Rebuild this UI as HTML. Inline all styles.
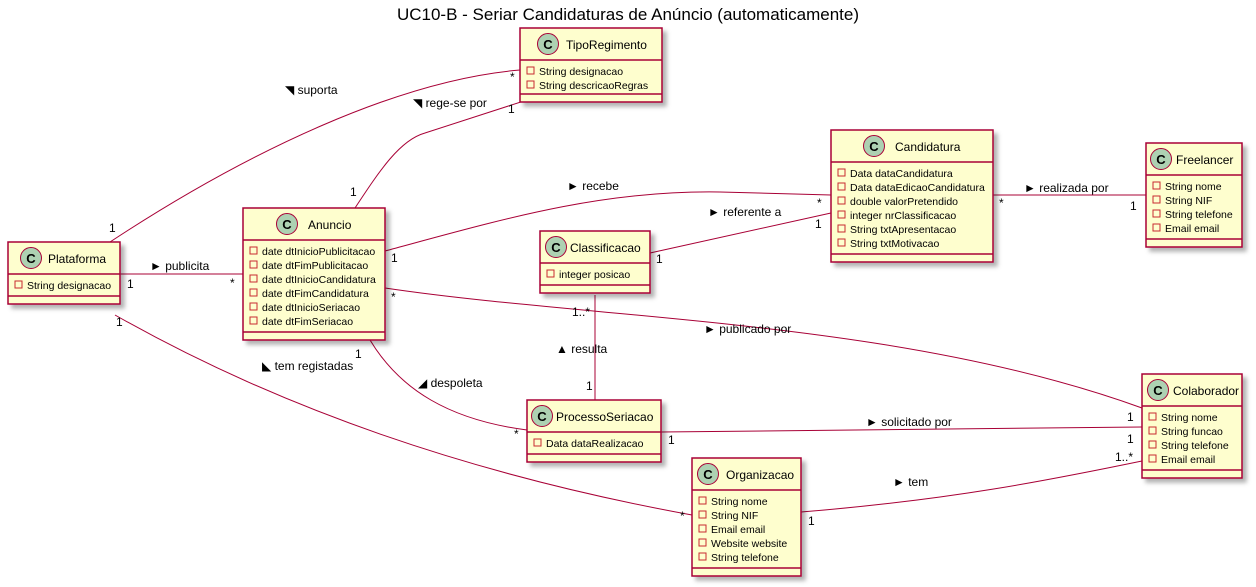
<!DOCTYPE html>
<html><head><meta charset="utf-8"><style>
html,body{margin:0;padding:0;background:#fff;}
svg{display:block;font-family:"Liberation Sans",sans-serif;}
.at{font-size:10.5px;fill:#000}
.cn{font-size:12px;fill:#000}
.lb{font-size:12px;fill:#000}
.e{fill:none;stroke:#A80036;stroke-width:1}
</style></head><body>
<svg width="1256" height="587" viewBox="0 0 1256 587" xmlns="http://www.w3.org/2000/svg">
<defs><filter id="sh" x="-10%" y="-10%" width="130%" height="130%"><feDropShadow dx="4" dy="4" stdDeviation="2" flood-color="#000" flood-opacity="0.3"/></filter></defs>
<text x="628" y="20" text-anchor="middle" font-size="17">UC10-B - Seriar Candidaturas de Anúncio (automaticamente)</text>

<path class="e" d="M110,242 C250,150 400,80 520,70"/>
<path class="e" d="M355,208 C380,170 400,140 425,133 L527,100"/>
<path class="e" d="M120,274 L243,274"/>
<path class="e" d="M385,251 C500,220 600,190 720,192 L831,195"/>
<path class="e" d="M650,253 L831,213"/>
<path class="e" d="M993,195 L1146,195"/>
<path class="e" d="M385,288 C600,320 900,320 1142,408"/>
<path class="e" d="M595,295 L595,400"/>
<path class="e" d="M370,340 C400,390 450,420 527,430"/>
<path class="e" d="M115,315 C300,420 500,480 692,515"/>
<path class="e" d="M661,432 L1142,427"/>
<path class="e" d="M801,512 C950,500 1050,480 1142,461"/>

<g class="lb">
<text x="109" y="232">1</text><text x="510" y="81">*</text><text x="285" y="94">◥ suporta</text>
<text x="350" y="196">1</text><text x="508" y="113">1</text><text x="413" y="107">◥ rege-se por</text>
<text x="127" y="288">1</text><text x="230" y="287">*</text><text x="150" y="270">► publicita</text>
<text x="391" y="262">1</text><text x="817" y="207">*</text><text x="567" y="190">► recebe</text>
<text x="656" y="263">1</text><text x="815" y="228">1</text><text x="708" y="216">► referente a</text>
<text x="999" y="207">*</text><text x="1130" y="210">1</text><text x="1024" y="192">► realizada por</text>
<text x="391" y="301">*</text><text x="704" y="333">► publicado por</text>
<text x="572" y="316">1..*</text><text x="586" y="390">1</text><text x="556" y="353">▲ resulta</text>
<text x="355" y="358">1</text><text x="514" y="438">*</text><text x="418" y="387">◢ despoleta</text>
<text x="116" y="326">1</text><text x="680" y="520">*</text><text x="262" y="370">◣ tem registadas</text>
<text x="668" y="444">1</text><text x="1127" y="421">1</text><text x="866" y="426">► solicitado por</text>
<text x="808" y="525">1</text><text x="1115" y="461">1..*</text><text x="1127" y="443">1</text><text x="893" y="486">► tem</text>
</g>

<g stroke="#A80036" stroke-width="1.5" fill="#FEFECE" filter="url(#sh)">
<rect x="8" y="242" width="112" height="62"/>
<rect x="243" y="208" width="142" height="132"/>
<rect x="520" y="28" width="142" height="74"/>
<rect x="831" y="130" width="162" height="132"/>
<rect x="1146" y="143" width="96" height="104"/>
<rect x="540" y="231" width="110" height="62"/>
<rect x="527" y="400" width="134" height="62"/>
<rect x="692" y="458" width="109" height="118"/>
<rect x="1142" y="374" width="100" height="104"/>
</g>
<g stroke="#A80036" stroke-width="1.5">
<line x1="8" y1="274" x2="120" y2="274"/><line x1="8" y1="296" x2="120" y2="296"/>
<line x1="243" y1="240" x2="385" y2="240"/><line x1="243" y1="332" x2="385" y2="332"/>
<line x1="520" y1="60" x2="662" y2="60"/><line x1="520" y1="94" x2="662" y2="94"/>
<line x1="831" y1="162" x2="993" y2="162"/><line x1="831" y1="254" x2="993" y2="254"/>
<line x1="1146" y1="175" x2="1242" y2="175"/><line x1="1146" y1="239" x2="1242" y2="239"/>
<line x1="540" y1="263" x2="650" y2="263"/><line x1="540" y1="285" x2="650" y2="285"/>
<line x1="527" y1="432" x2="661" y2="432"/><line x1="527" y1="454" x2="661" y2="454"/>
<line x1="692" y1="490" x2="801" y2="490"/><line x1="692" y1="568" x2="801" y2="568"/>
<line x1="1142" y1="406" x2="1242" y2="406"/><line x1="1142" y1="470" x2="1242" y2="470"/>
</g>
<g fill="#ADD1B2" stroke="#A80036" stroke-width="1">
<circle cx="31" cy="258" r="10.5"/><circle cx="287" cy="224" r="10.5"/><circle cx="548" cy="44" r="10.5"/>
<circle cx="874" cy="146" r="10.5"/><circle cx="1161" cy="159" r="10.5"/><circle cx="556" cy="247" r="10.5"/>
<circle cx="542" cy="416" r="10.5"/><circle cx="708" cy="474" r="10.5"/><circle cx="1158" cy="390" r="10.5"/>
</g>
<g font-size="13" font-weight="bold" text-anchor="middle">
<text x="31" y="263">C</text><text x="287" y="229">C</text><text x="548" y="49">C</text>
<text x="874" y="151">C</text><text x="1161" y="164">C</text><text x="556" y="252">C</text>
<text x="542" y="421">C</text><text x="708" y="479">C</text><text x="1158" y="395">C</text>
</g>
<g class="cn">
<text x="48" y="263">Plataforma</text><text x="308" y="229">Anuncio</text><text x="566" y="49">TipoRegimento</text>
<text x="895" y="151">Candidatura</text><text x="1176" y="164">Freelancer</text><text x="570" y="252">Classificacao</text>
<text x="556" y="421">ProcessoSeriacao</text><text x="726" y="479">Organizacao</text><text x="1173" y="395">Colaborador</text>
</g>
<g fill="none" stroke="#C82930" stroke-width="1">
<rect x="15" y="281" width="7" height="7"/>
<rect x="250" y="247" width="7" height="7"/><rect x="250" y="261" width="7" height="7"/><rect x="250" y="275" width="7" height="7"/><rect x="250" y="289" width="7" height="7"/><rect x="250" y="303" width="7" height="7"/><rect x="250" y="317" width="7" height="7"/>
<rect x="527" y="67" width="7" height="7"/><rect x="527" y="81" width="7" height="7"/>
<rect x="838" y="169" width="7" height="7"/><rect x="838" y="183" width="7" height="7"/><rect x="838" y="197" width="7" height="7"/><rect x="838" y="211" width="7" height="7"/><rect x="838" y="225" width="7" height="7"/><rect x="838" y="239" width="7" height="7"/>
<rect x="1153" y="182" width="7" height="7"/><rect x="1153" y="196" width="7" height="7"/><rect x="1153" y="210" width="7" height="7"/><rect x="1153" y="224" width="7" height="7"/>
<rect x="547" y="270" width="7" height="7"/>
<rect x="534" y="439" width="7" height="7"/>
<rect x="699" y="497" width="7" height="7"/><rect x="699" y="511" width="7" height="7"/><rect x="699" y="525" width="7" height="7"/><rect x="699" y="539" width="7" height="7"/><rect x="699" y="553" width="7" height="7"/>
<rect x="1149" y="413" width="7" height="7"/><rect x="1149" y="427" width="7" height="7"/><rect x="1149" y="441" width="7" height="7"/><rect x="1149" y="455" width="7" height="7"/>
</g>
<g class="at">
<text x="27" y="289">String designacao</text>
<text x="262" y="255">date dtInicioPublicitacao</text><text x="262" y="269">date dtFimPublicitacao</text><text x="262" y="283">date dtInicioCandidatura</text><text x="262" y="297">date dtFimCandidatura</text><text x="262" y="311">date dtInicioSeriacao</text><text x="262" y="325">date dtFimSeriacao</text>
<text x="539" y="75">String designacao</text><text x="539" y="89">String descricaoRegras</text>
<text x="850" y="177">Data dataCandidatura</text><text x="850" y="191">Data dataEdicaoCandidatura</text><text x="850" y="205">double valorPretendido</text><text x="850" y="219">integer nrClassificacao</text><text x="850" y="233">String txtApresentacao</text><text x="850" y="247">String txtMotivacao</text>
<text x="1165" y="190">String nome</text><text x="1165" y="204">String NIF</text><text x="1165" y="218">String telefone</text><text x="1165" y="232">Email email</text>
<text x="559" y="278">integer posicao</text>
<text x="546" y="447">Data dataRealizacao</text>
<text x="711" y="505">String nome</text><text x="711" y="519">String NIF</text><text x="711" y="533">Email email</text><text x="711" y="547">Website website</text><text x="711" y="561">String telefone</text>
<text x="1161" y="421">String nome</text><text x="1161" y="435">String funcao</text><text x="1161" y="449">String telefone</text><text x="1161" y="463">Email email</text>
</g>
</svg>
</body></html>
